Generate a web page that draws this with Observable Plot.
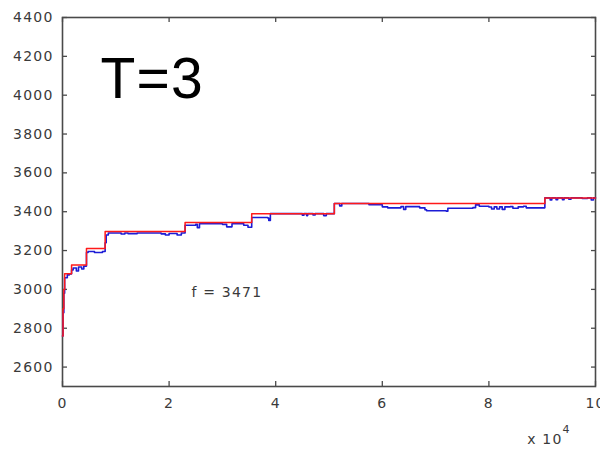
<!DOCTYPE html>
<html>
<head>
<meta charset="utf-8">
<script src="https://cdn.jsdelivr.net/npm/d3@7"></script>
<script src="https://cdn.jsdelivr.net/npm/@observablehq/plot@0.6"></script>
<style>
  body { margin: 0; background: #fff; }
  #chart svg { display: block; }
</style>
</head>
<body>
<div id="chart"></div>
<script>
// Best objective found so far (step function over iterations)
const bestIter = [0, 100, 250, 400, 1700, 4500, 8000, 23000, 35500, 51000, 90500, 100000];
const bestF    = [2760, 2900, 3000, 3080, 3125, 3210, 3298, 3345, 3390, 3442, 3471, 3471];

// Current objective of the search at each accepted move
const curIter = [0, 100, 250, 400, 900, 1300, 1700, 2000, 2600, 3000, 3600, 4000,
  4500, 4800, 6000, 7500, 8000, 8200, 8600, 11000, 11700, 12300, 14000, 18500,
  19300, 20000, 21500, 22300, 23000, 25000, 25300, 25700, 30000, 30800, 31800, 34000,
  34800, 35500, 38500, 38700, 39000, 45000, 45300, 45800, 46000, 47000, 47400, 49000,
  49500, 51000, 52000, 52400, 57500, 60000, 61000, 63500, 64000, 64400, 67000, 68000,
  68300, 72000, 72300, 77000, 77500, 78200, 80000, 80500, 81000, 81500, 82000, 82500,
  83000, 84000, 84500, 85500, 86500, 87000, 90500, 91500, 91800, 92600, 92900, 93800,
  94100, 95000, 95400, 97500, 98500, 99200, 99600, 100000];
const curF = [2760, 2880, 2980, 3060, 3075, 3080, 3100, 3110, 3095, 3115, 3105, 3120,
  3190, 3195, 3190, 3195, 3240, 3280, 3290, 3285, 3290, 3287, 3290, 3286,
  3280, 3288, 3280, 3290, 3330, 3335, 3318, 3338, 3335, 3322, 3338, 3330,
  3320, 3370, 3368, 3355, 3390, 3382, 3390, 3380, 3390, 3383, 3390, 3380,
  3390, 3442, 3430, 3442, 3436, 3425, 3420, 3426, 3412, 3426, 3420, 3410,
  3405, 3402, 3418, 3421, 3435, 3428, 3424, 3414, 3425, 3414, 3425, 3412,
  3425, 3426, 3418, 3425, 3428, 3420, 3471, 3460, 3471, 3462, 3471, 3462,
  3471, 3464, 3471, 3468, 3471, 3460, 3471, 3471];

const xTicks = [0, 20000, 40000, 60000, 80000, 100000];
const yTicks = [2600, 2800, 3000, 3200, 3400, 3600, 3800, 4000, 4200, 4400];
const panelTitle = "T=3";
const xExponent = "4";
const noteAt = { x: 24200, y: 2986 };

const best = bestIter.map((x, i) => ({ x, f: bestF[i] }));
const cur = curIter.map((x, i) => ({ x, f: curF[i] }));

const W = 600, H = 453;
const M = { top: 17, right: 5, bottom: 67, left: 62 };
const innerH = H - M.top - M.bottom;
const axisColor = "#4a4a4a";
const blank = () => "";
const tick = 5;

const chart = Plot.plot({
  width: W,
  height: H,
  marginLeft: M.left,
  marginRight: M.right,
  marginTop: M.top,
  marginBottom: M.bottom,
  style: "background:#fff; font-family:'DejaVu Sans', sans-serif; font-size:14px; letter-spacing:1.2px; color:#3a3a3a;",
  x: { domain: [0, 100000] },
  y: { domain: [2500, 4400] },
  marks: [
    Plot.frame({ stroke: axisColor, strokeWidth: 1.6 }),
    // tick labels
    Plot.axisX(xTicks, { tickSize: 0, tickPadding: 12, tickFormat: d => d / 1e4, label: null }),
    Plot.axisY(yTicks, { tickSize: 0, tickPadding: 9, tickFormat: d => String(d), label: null }),
    // inward tick marks on all four sides (box axes)
    Plot.tickX(xTicks, { x: d => d, insetTop: innerH - tick, stroke: axisColor, strokeWidth: 1.3 }),
    Plot.tickX(xTicks, { x: d => d, insetBottom: innerH - tick, stroke: axisColor, strokeWidth: 1.3 }),
    Plot.axisY(yTicks, { tickSize: -tick, tickFormat: blank, label: null, stroke: axisColor, strokeWidth: 1.3 }),
    Plot.axisY(yTicks, { anchor: "right", tickSize: -tick, tickFormat: blank, label: null, stroke: axisColor, strokeWidth: 1.3 }),
    Plot.line(cur, { x: "x", y: "f", curve: "step-after", stroke: "#1c1cd6", strokeWidth: 1.6 }),
    Plot.line(best, { x: "x", y: "f", curve: "step-after", stroke: "#ff1a1a", strokeWidth: 1.5 }),
    Plot.text([panelTitle], {
      frameAnchor: "top-left", textAnchor: "start", lineAnchor: "top",
      dx: 38, dy: 40, fontSize: 57, fill: "#000",
      fontFamily: "'Liberation Sans', Arial, sans-serif", style: "letter-spacing:0"
    }),
    Plot.text([`f = ${bestF[bestF.length - 1]}`], {
      x: () => noteAt.x, y: () => noteAt.y, textAnchor: "start", fill: "#3a3a3a"
    })
  ]
});

// MATLAB-style axis multiplier under the right end of the x axis
const svg = d3.select(chart);
const mult = svg.append("text")
  .attr("x", 549).attr("y", 444)
  .attr("fill", "#3a3a3a")
  .attr("font-size", 14);
mult.append("tspan").text("x 10");
mult.append("tspan").attr("dy", -11).attr("font-size", 11).text(xExponent);

document.getElementById("chart").append(chart);
</script>
</body>
</html>
